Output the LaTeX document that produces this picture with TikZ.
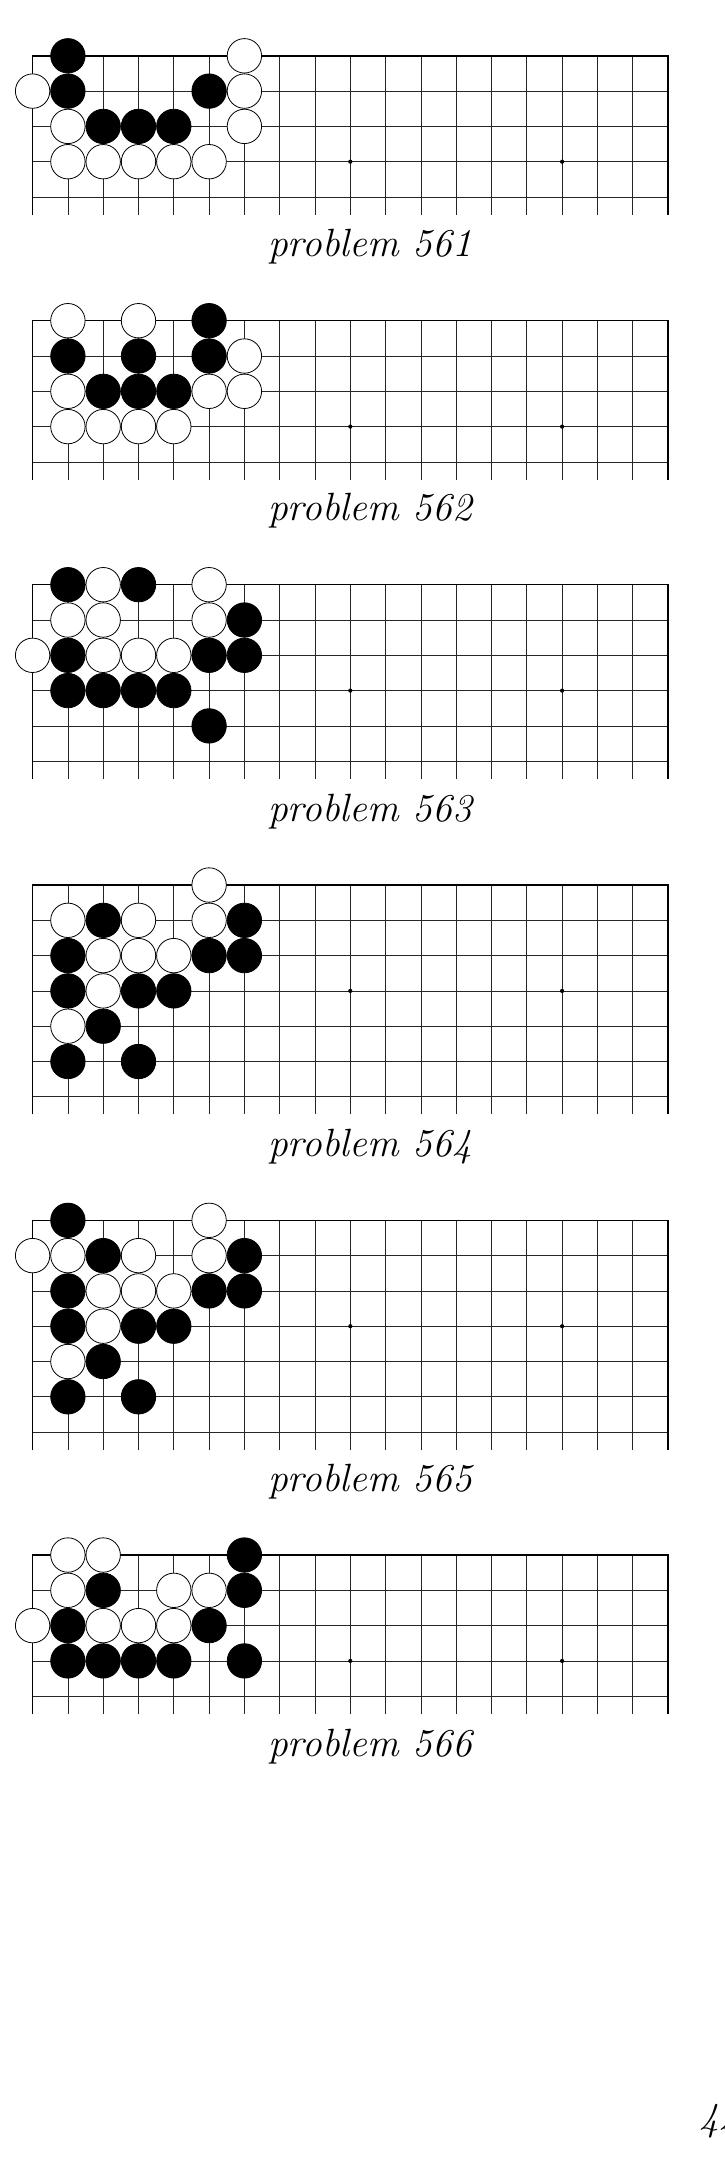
\documentclass[tikz,border=0pt]{standalone}
\usepackage{graphicx}
\tikzset{
  gridline/.style={line width=0.4pt, black!85},
  edgeline/.style={line width=0.75pt, black},
  bstone/.style={circle, draw=black, fill=black, line width=0.4pt, inner sep=0pt, minimum size=17.2pt},
  wstone/.style={circle, draw=black, fill=white, line width=0.4pt, inner sep=0pt, minimum size=17.2pt},
  captext/.style={anchor=base, inner sep=0pt, font=\fontsize{19.7}{24}\selectfont\itshape},
}
% #1 top y, #2 number of horizontal lines, #3 caption baseline, #4 number, #5 black stones, #6 white stones
\newcommand{\goboard}[6]{%
  \pgfmathsetmacro{\gbbottom}{#2-0.5}%
  \pgfmathtruncatemacro{\gblast}{#2-1}%
  \begin{scope}[shift={(32.6,#1)}, x=17.65pt, y=-17.65pt]
    \foreach \i in {1,...,17} \draw[gridline] (\i,0) -- (\i,\gbbottom);
    \foreach \j in {1,...,\gblast} \draw[gridline] (0,\j) -- (18,\j);
    \draw[edgeline] (0,\gbbottom) -- (0,0) -- (18,0) -- (18,\gbbottom);
    \foreach \c in {3,9,15} \fill (\c,3) circle[radius=1.05pt];
    \foreach \c/\r in {#5} \node[bstone] (b#4-\c-\r) at (\c,\r) {};
    \foreach \c/\r in {#6} \node[wstone] (w#4-\c-\r) at (\c,\r) {};
  \end{scope}
  \node[captext] (cap#4) at (370,#3) {problem #4};
}
\begin{document}
\begin{tikzpicture}[x=0.5pt, y=-0.5pt]
\useasboundingbox (0,0) rectangle (724,2181);
\goboard{55.8}{5}{256.7}{561}
  {1/0,1/1,5/1,2/2,3/2,4/2}
  {6/0,0/1,6/1,1/2,6/2,1/3,2/3,3/3,4/3,5/3}
\goboard{320.7}{5}{520.5}{562}
  {5/0,1/1,3/1,5/1,2/2,3/2,4/2}
  {1/0,3/0,6/1,1/2,5/2,6/2,1/3,2/3,3/3,4/3}
\goboard{584.7}{6}{821.3}{563}
  {1/0,3/0,6/1,1/2,5/2,6/2,1/3,2/3,3/3,4/3,5/4}
  {2/0,5/0,1/1,2/1,5/1,0/2,2/2,3/2,4/2}
\goboard{885}{7}{1156.6}{564}
  {2/1,6/1,1/2,5/2,6/2,1/3,3/3,4/3,2/4,1/5,3/5}
  {5/0,1/1,3/1,5/1,2/2,3/2,4/2,2/3,1/4}
\goboard{1220.3}{7}{1491}{565}
  {1/0,2/1,6/1,1/2,5/2,6/2,1/3,3/3,4/3,2/4,1/5,3/5}
  {5/0,0/1,1/1,3/1,5/1,2/2,3/2,4/2,2/3,1/4}
\goboard{1555}{5}{1756.3}{566}
  {6/0,2/1,6/1,1/2,5/2,1/3,2/3,3/3,4/3,6/3}
  {1/0,2/0,1/1,4/1,5/1,0/2,2/2,3/2,4/2}
\node[anchor=base west, inner sep=0pt, font=\fontsize{19.7}{24}\selectfont\itshape] (pagenum) at (699,2130) {44};
\end{tikzpicture}
\end{document}
